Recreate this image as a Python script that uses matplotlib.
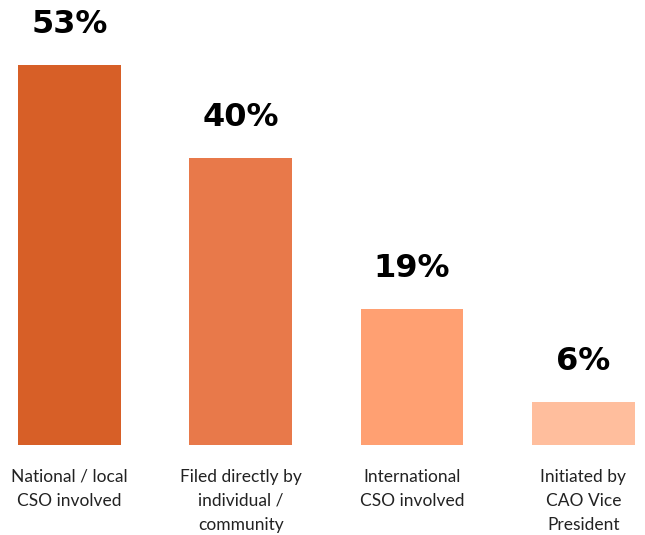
import matplotlib
matplotlib.use("Agg")
import matplotlib.pyplot as plt
import numpy as np

# Share of cases by how they were filed
categories = [
    "National / local\nCSO involved",
    "Filed directly by\nindividual /\ncommunity",
    "International\nCSO involved",
    "Initiated by\nCAO Vice\nPresident",
]
values = [53, 40, 19, 6]
colors = ["#D75F27", "#E8794A", "#FFA072", "#FFBE9D"]


def main():
    fig = plt.figure(figsize=(6.45, 5.35), dpi=100)
    ax = fig.add_axes([0, 90 / 535, 1, 430 / 535])

    x = np.arange(len(values))
    bars = ax.bar(x, values, width=0.6, color=colors)

    # Percent labels above the bars
    for rect, v in zip(bars, values):
        ax.annotate(
            f"{v}%",
            xy=(rect.get_x() + rect.get_width() / 2, rect.get_height()),
            xytext=(0, 18),
            textcoords="offset points",
            ha="center",
            va="bottom",
            fontsize=23,
            fontweight="bold",
            fontfamily="DejaVu Sans",
            color="black",
        )

    ax.set_xlim(-0.406, 3.36)
    ax.set_ylim(0, 60)
    ax.set_xticks(x)
    ax.set_xticklabels(categories, fontsize=12.5, fontfamily="Lato",
                       color="#222222", linespacing=1.62)
    ax.tick_params(axis="x", length=0, pad=17)
    ax.set_yticks([])
    for s in ax.spines.values():
        s.set_visible(False)

    fig.savefig("out.png", dpi=100)


if __name__ == "__main__":
    main()
